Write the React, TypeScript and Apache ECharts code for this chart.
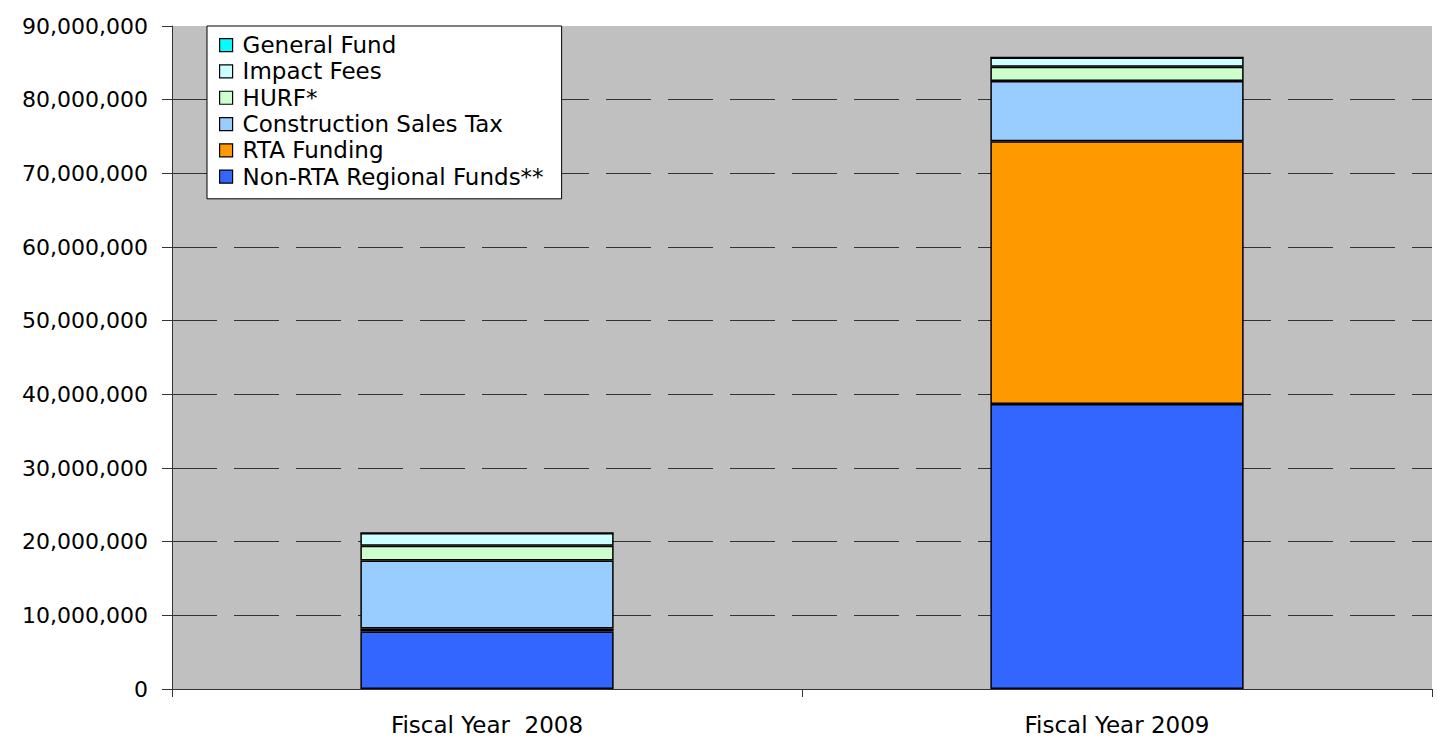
import React, { useEffect, useRef } from "react";
import * as echarts from "echarts";

const categories = ["Fiscal Year  2008", "Fiscal Year 2009"];
const nonRtaRegional = [7800000, 38700000];
const rtaFunding = [400000, 35650000];
const constructionSalesTax = [9250000, 8180000];
const hurf = [1990000, 1940000];
const impactFees = [1730000, 1270000];
const generalFund = [0, 0];
const legendOrder = [
  "General Fund",
  "Impact Fees",
  "HURF*",
  "Construction Sales Tax",
  "RTA Funding",
  "Non-RTA Regional Funds**",
];

const FONT = "'DejaVu Sans', 'Liberation Sans', Arial, sans-serif";

export default function App() {
  const ref = useRef<HTMLDivElement>(null);
  useEffect(() => {
    const chart = echarts.init(ref.current!, undefined, { renderer: "svg" });
    const mk = (name: string, data: number[], color: string) => ({
      name,
      type: "bar",
      stack: "total",
      data,
      barWidth: "40.2%",
      itemStyle: { color, borderColor: "#000", borderWidth: 1.5 },
    });
    chart.setOption({
      animation: false,
      textStyle: { fontFamily: FONT },
      grid: {
        left: 172,
        top: 26,
        right: 5,
        bottom: 62,
        show: true,
        backgroundColor: "#C0C0C0",
        borderWidth: 0,
      },
      legend: {
        orient: "vertical",
        left: 207,
        top: 26,
        data: legendOrder,
        backgroundColor: "#fff",
        borderColor: "#000",
        borderWidth: 1,
        borderRadius: 0,
        padding: [6, 18, 9, 12],
        itemGap: 0,
        itemWidth: 13,
        itemHeight: 13,
        icon: "rect",
        itemStyle: { borderColor: "#000", borderWidth: 1.2 },
        textStyle: {
          fontSize: 23,
          color: "#000",
          lineHeight: 26.3,
          fontFamily: FONT,
          padding: [0, 0, 0, 5],
        },
      },
      xAxis: {
        type: "category",
        data: categories,
        axisLine: { lineStyle: { color: "#333", width: 1 } },
        axisTick: { show: true, length: 8, lineStyle: { color: "#333" } },
        axisLabel: { fontSize: 23, color: "#000", margin: 24, fontFamily: FONT },
      },
      yAxis: {
        type: "value",
        min: 0,
        max: 90000000,
        interval: 10000000,
        axisLine: { show: true, lineStyle: { color: "#333", width: 1 } },
        axisTick: { show: true, length: 10, lineStyle: { color: "#333" } },
        axisLabel: {
          fontSize: 22,
          color: "#000",
          margin: 24,
          fontFamily: FONT,
          formatter: (v: number) => v.toLocaleString("en-US"),
        },
        splitLine: {
          show: true,
          showMaxLine: false,
          lineStyle: { color: "#333", width: 1, type: [45, 17] },
        },
      },
      series: [
        mk("Non-RTA Regional Funds**", nonRtaRegional, "#3366FF"),
        mk("RTA Funding", rtaFunding, "#FF9900"),
        mk("Construction Sales Tax", constructionSalesTax, "#99CCFF"),
        mk("HURF*", hurf, "#CCFFCC"),
        mk("Impact Fees", impactFees, "#CCFFFF"),
        mk("General Fund", generalFund, "#00FFFF"),
      ],
    });
    return () => chart.dispose();
  }, []);
  return <div ref={ref} style={{ width: 1437, height: 751, position: "absolute", left: 0, top: 0, background: "#fff" }} />;
}
